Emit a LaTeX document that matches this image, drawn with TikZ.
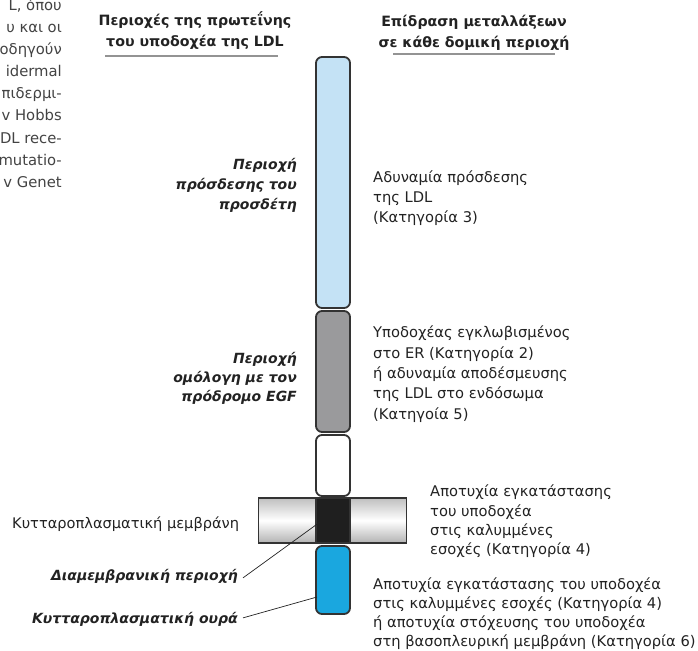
\documentclass[tikz,border=0pt]{standalone}
\usepackage{fontspec}
\setmainfont{DejaVu Sans}
\usetikzlibrary{calc}
\definecolor{lblue}{HTML}{C4E2F5}
\definecolor{mgray}{HTML}{9A9A9C}
\definecolor{tblue}{HTML}{1AA7DF}
\definecolor{segline}{HTML}{333333}
\definecolor{txt}{HTML}{222222}
\newcommand\tp{\rule{0pt}{1em}}
\begin{document}
\begin{tikzpicture}[x=1pt,y=-1pt,
  seg/.style={draw=segline, line width=1.8pt, rounded corners=6pt, minimum width=34pt, inner sep=0pt, outer sep=0pt},
  body/.style={text=txt, inner sep=0pt, align=left, anchor=north west},
  lab/.style={text=txt, inner sep=0pt, align=right, anchor=north east},
  head/.style={font=\fontsize{14.2}{21}\selectfont\bfseries, text=txt, inner sep=0pt, align=center, anchor=north},
  frag/.style={font=\fontsize{14.8}{18}\selectfont, text=txt!85, inner sep=0pt, anchor=base east},
  uline/.style={draw=gray!85, line width=1.3pt},
  lead/.style={draw=txt, line width=0.7pt}]
\useasboundingbox (0,0) rectangle (698,650);

% clipped body-text fragment
\node[frag] (f1) at (62,11) {L, όπου};
\node[frag] (f2) at (62,33) {υ και οι};
\node[frag] (f3) at (62,55) {οδηγούν};
\node[frag] (f4) at (62,77) {idermal};
\node[frag] (f5) at (62,99) {πιδερμι-};
\node[frag] (f6) at (62,121) {v Hobbs};
\node[frag] (f7) at (62,143) {DL rece-};
\node[frag] (f8) at (62,165) {mutatio-};
\node[frag] (f9) at (62,187) {v Genet};

% headers
\node[head] (h1) at (195,11) {\tp Περιοχές της πρωτεΐνης\\του υποδοχέα της LDL};
\coordinate (u1a) at (105,56); \coordinate (u1b) at (278,56);
\draw[uline] (u1a) -- (u1b);
\node[head] (h2) at (474,12) {\tp Επίδραση μεταλλάξεων\\σε κάθε δομική περιοχή};
\coordinate (u2a) at (393,54); \coordinate (u2b) at (555,54);
\draw[uline] (u2a) -- (u2b);

% receptor bar
\node[seg, fill=lblue, minimum height=251pt] (lig) at (333,182.5) {};
\node[seg, fill=mgray, minimum height=121pt] (egf) at (333,371.5) {};
\node[seg, fill=white, minimum height=61pt] (wht) at (333,465.5) {};
\node[draw=segline, line width=1.3pt, minimum width=148pt, minimum height=45pt, inner sep=0pt,
      top color=gray!50, bottom color=gray!60, middle color=white] (mem) at (332.5,520.5) {};
\node[draw=segline, line width=1.3pt, fill=black!88, minimum width=34pt, minimum height=45pt, inner sep=0pt] (tm) at (333,520.5) {};
\node[seg, fill=tblue, minimum height=68pt] (tail) at (333,580) {};

% left labels
\node[lab, font=\fontsize{14}{20}\selectfont\bfseries\itshape] (l1) at (297,155) {\tp Περιοχή\\πρόσδεσης του\\προσδέτη};
\node[lab, font=\fontsize{14}{19}\selectfont\bfseries\itshape] (l2) at (297,349) {\tp Περιοχή\\ομόλογη με τον\\πρόδρομο EGF};
\node[font=\fontsize{14.6}{16}\selectfont, text=txt, inner sep=0pt, anchor=base west] (lmem) at (12,528) {Κυτταροπλασματική μεμβράνη};
\node[font=\fontsize{14}{16}\selectfont\bfseries\itshape, text=txt, inner sep=0pt, anchor=base east] (ltm) at (238,580) {Διαμεμβρανική περιοχή};
\node[font=\fontsize{14}{16}\selectfont\bfseries\itshape, text=txt, inner sep=0pt, anchor=base east] (ltail) at (238,623) {Κυτταροπλασματική ουρά};
\coordinate (tmend) at (320,522);
\coordinate (tailend) at (317,597);
\draw[lead] ($(ltm.east)+(5,2)$) -- (tmend);
\draw[lead] ($(ltail.east)+(5,-1)$) -- (tailend);

% right texts
\node[body, font=\fontsize{14.7}{20}\selectfont] (r1) at (373,168) {\tp Αδυναμία πρόσδεσης\\της LDL\\(Κατηγορία 3)};
\node[body, font=\fontsize{14.7}{20.3}\selectfont] (r2) at (373,323) {\tp Υποδοχέας εγκλωβισμένος\\στο ER (Κατηγορία 2)\\ή αδυναμία αποδέσμευσης\\της LDL στο ενδόσωμα\\(Κατηγοία 5)};
\node[body, font=\fontsize{14.7}{19.3}\selectfont] (r3) at (430,482) {\tp Αποτυχία εγκατάστασης\\του υποδοχέα\\στις καλυμμένες\\εσοχές (Κατηγορία 4)};
\node[body, font=\fontsize{14.7}{19}\selectfont] (r4) at (373,575) {\tp Αποτυχία εγκατάστασης του υποδοχέα\\στις καλυμμένες εσοχές (Κατηγορία 4)\\ή αποτυχία στόχευσης του υποδοχέα\\στη βασοπλευρική μεμβράνη (Κατηγορία 6)};
\end{tikzpicture}
\end{document}
